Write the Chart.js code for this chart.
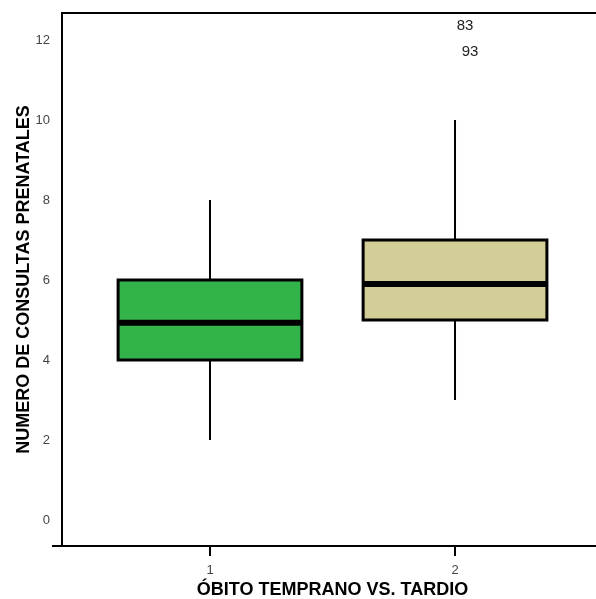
<!DOCTYPE html>
<html>
<head>
<meta charset="utf-8">
<script src="https://cdn.jsdelivr.net/npm/chart.js@4"></script>
<style>
  html, body { margin: 0; padding: 0; overflow: hidden; background: #fff; }
</style>
</head>
<body>
<canvas id="boxChart" width="610" height="599"></canvas>
<script>
// Datos del diagrama de caja
const categories = [1, 2];
const mins = [2, 3];
const q1s = [4, 5];
const medians = [4.93, 5.9];
const q3s = [6, 7];
const maxs = [8, 10];
const boxColors = ["#33b44a", "#d3cd98"];

// valores atipicos (solo etiquetas)
const outlierGroup = [2, 2];
const outlierValues = [12.35, 11.7];
const outlierLabels = ["83", "93"];

const yTicks = [0, 2, 4, 6, 8, 10, 12];

const boxPlugin = {
  id: "boxPlugin",
  afterDatasetsDraw(chart) {
    const { ctx, chartArea, scales } = chart;
    const x = scales.x;
    const y = scales.y;
    ctx.save();

    categories.forEach((c, i) => {
      const cx = x.getPixelForValue(c);
      const left = x.getPixelForValue(c - 0.375);
      const right = x.getPixelForValue(c + 0.375);
      const top = y.getPixelForValue(q3s[i]);
      const bottom = y.getPixelForValue(q1s[i]);

      // bigotes
      ctx.strokeStyle = "#000";
      ctx.lineWidth = 2;
      ctx.beginPath();
      ctx.moveTo(cx, y.getPixelForValue(maxs[i]));
      ctx.lineTo(cx, top);
      ctx.moveTo(cx, bottom);
      ctx.lineTo(cx, y.getPixelForValue(mins[i]));
      ctx.stroke();

      // caja
      ctx.fillStyle = boxColors[i];
      ctx.fillRect(left, top, right - left, bottom - top);
      ctx.lineWidth = 3;
      ctx.strokeRect(left, top, right - left, bottom - top);

      // mediana
      ctx.lineWidth = 6;
      ctx.beginPath();
      ctx.moveTo(left, y.getPixelForValue(medians[i]));
      ctx.lineTo(right, y.getPixelForValue(medians[i]));
      ctx.stroke();
    });

    // etiquetas de atipicos
    ctx.fillStyle = "#222";
    ctx.font = "15px 'Liberation Sans', Arial, sans-serif";
    ctx.textAlign = "center";
    ctx.textBaseline = "middle";
    outlierValues.forEach((v, i) => {
      ctx.fillText(outlierLabels[i], x.getPixelForValue(outlierGroup[i]) + 10 + i * 5, y.getPixelForValue(v));
    });

    // marco
    ctx.strokeStyle = "#000";
    ctx.lineWidth = 2;
    ctx.beginPath();
    ctx.moveTo(chartArea.left, chartArea.top);
    ctx.lineTo(chartArea.right, chartArea.top);
    ctx.lineTo(chartArea.right, chartArea.bottom);
    ctx.moveTo(chartArea.left - 10, chartArea.bottom);
    ctx.lineTo(chartArea.left, chartArea.bottom);
    ctx.stroke();
    ctx.restore();
  },
};

new Chart(document.getElementById("boxChart"), {
  type: "scatter",
  data: {
    datasets: [
      {
        data: categories.map((c, i) => ({ x: c, y: medians[i] })),
        pointRadius: 0,
        showLine: false,
      },
    ],
  },
  options: {
    responsive: false,
    animation: false,
    layout: {
      padding: { top: 13, right: 7, left: 0, bottom: 0 },
    },
    plugins: {
      legend: { display: false },
      tooltip: { enabled: false },
    },
    scales: {
      x: {
        type: "linear",
        min: 0.396,
        max: 2.604,
        afterBuildTicks: (scale) => {
          scale.ticks = categories.map((v) => ({ value: v }));
        },
        afterFit: (scale) => {
          scale.height = 53;
        },
        grid: {
          display: true,
          drawOnChartArea: false,
          drawTicks: true,
          tickLength: 10,
          color: "#000",
          lineWidth: 2,
        },
        border: { display: true, color: "#000", width: 2 },
        ticks: {
          color: "#444",
          padding: 7,
          font: { family: "'Liberation Sans', Arial, sans-serif", size: 13 },
        },
        title: {
          display: true,
          text: "ÓBITO TEMPRANO VS. TARDIO",
          color: "#000",
          padding: { top: 0, bottom: -2 },
          font: { family: "'Liberation Sans', Arial, sans-serif", size: 18, weight: "bold" },
        },
      },
      y: {
        type: "linear",
        min: -0.65,
        max: 12.675,
        afterBuildTicks: (scale) => {
          scale.ticks = yTicks.map((v) => ({ value: v }));
        },
        afterFit: (scale) => {
          scale.width = 62;
          scale.paddingTop = 0;
          scale.paddingBottom = 0;
        },
        grid: { display: false, drawTicks: false },
        border: { display: true, color: "#000", width: 2 },
        ticks: {
          color: "#444",
          padding: 12,
          font: { family: "'Liberation Sans', Arial, sans-serif", size: 13 },
        },
        title: {
          display: true,
          text: "NUMERO DE CONSULTAS PRENATALES",
          color: "#000",
          padding: { top: 13, bottom: 0 },
          font: { family: "'Liberation Sans', Arial, sans-serif", size: 18, weight: "bold" },
        },
      },
    },
  },
  plugins: [boxPlugin],
});
</script>
</body>
</html>
